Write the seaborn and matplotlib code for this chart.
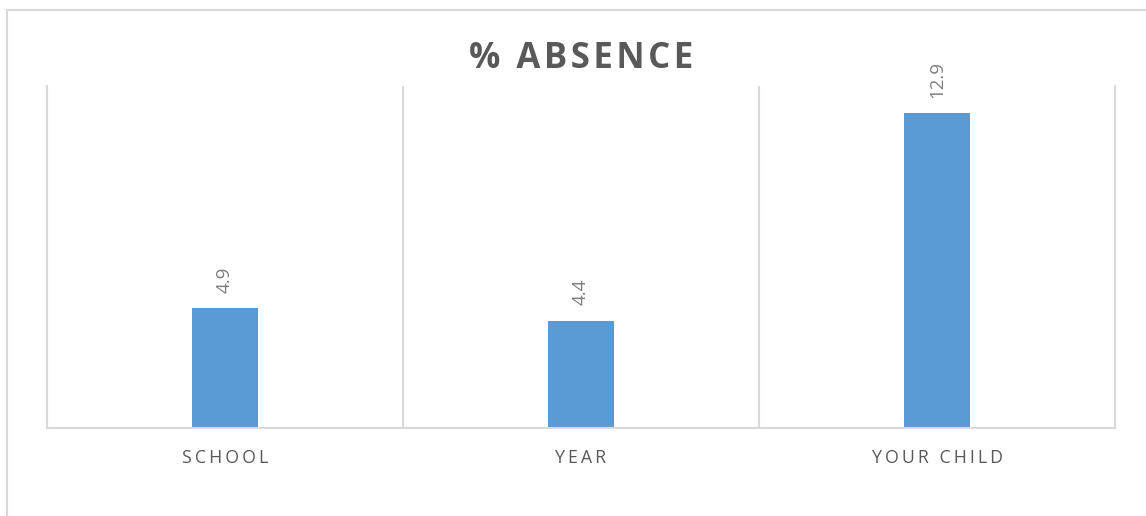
import matplotlib
matplotlib.use("Agg")
import matplotlib.pyplot as plt
import matplotlib.patches as mpatches
import seaborn as sns
import numpy as np
import pandas as pd

categories = ["SCHOOL", "YEAR", "YOUR CHILD"]
values = [4.9, 4.4, 12.9]
title = "% ABSENCE"

BAR = "#5B9BD5"
GRID = "#D9D9D9"
TXT = "#595959"
LBL = "#7F7F7F"

sns.set_theme(style="white")
plt.rcParams["font.family"] = ["Open Sans", "DejaVu Sans"]

def spaced(s, sep="\u200a"):
    return sep.join(list(s))

df = pd.DataFrame({"cat": categories, "val": values})

fig = plt.figure(figsize=(11.46, 5.16), dpi=100)
ax = fig.add_axes([47/1146, 88/516, (1115-47)/1146, (428-86)/516])

sns.barplot(data=df, x="cat", y="val", color=BAR, width=0.185, ax=ax,
            saturation=1, edgecolor="none")

ax.set_xlim(-0.5, len(categories) - 0.5)
ax.set_ylim(0, 14)
ax.set_xlabel("")
ax.set_ylabel("")
ax.set_yticks([])
ax.set_xticks(range(len(categories)))
ax.set_xticklabels([spaced(c, "\u2009") for c in categories], color=TXT, fontsize=12.8)
ax.tick_params(axis="x", length=0, pad=15)
ax.set_xticks(np.arange(len(categories) + 1) - 0.5, minor=True)
ax.tick_params(axis="x", which="minor", length=0)
ax.grid(False)
ax.grid(True, which="minor", axis="x", color=GRID, lw=1.5)
ax.spines["top"].set_visible(False)
for s in ["left", "right", "bottom"]:
    ax.spines[s].set_visible(True)
    ax.spines[s].set_color(GRID)
    ax.spines[s].set_linewidth(1.5)

for cont in ax.containers:
    ax.bar_label(cont, labels=[f"{v:.1f}" for v in values], rotation=90,
                 padding=11, color=LBL, fontsize=13.5)

fig.text(581/1146, 1 - 59/516, spaced(title, "\u200a"), ha="center", va="center",
         fontsize=25, fontweight="bold", color=TXT)

fig.patches.append(mpatches.Rectangle((7/1146, -0.2), 1.2, (516-10)/516 + 0.2,
                                      transform=fig.transFigure, fill=False,
                                      edgecolor=GRID, lw=1.5, figure=fig))

fig.savefig("out.png", dpi=100, facecolor="white")
